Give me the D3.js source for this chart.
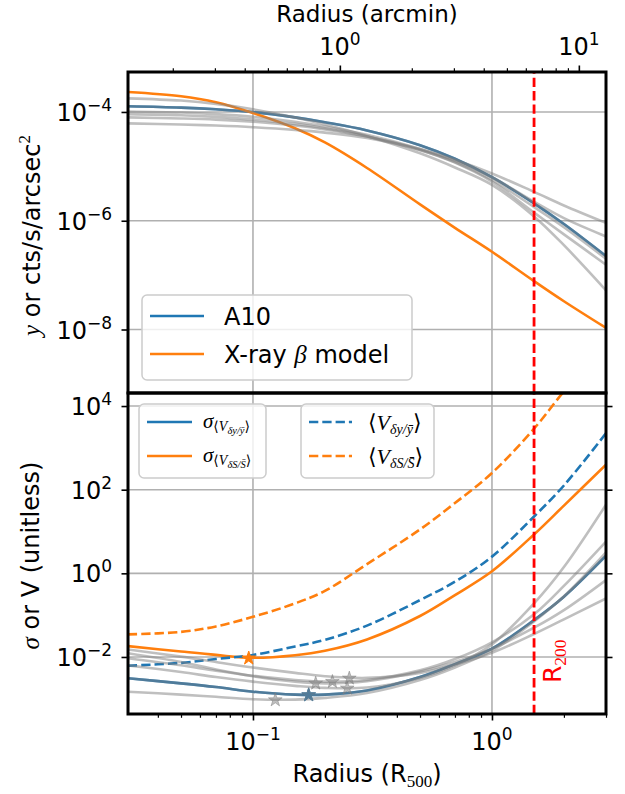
<!DOCTYPE html>
<html>
<head>
<meta charset="utf-8">
<script src="https://cdn.jsdelivr.net/npm/d3@7"></script>
<style>
  body { margin: 0; background: #fff; }
  svg { display: block; }
  text { font-family: "DejaVu Sans", sans-serif; fill: #000; }
</style>
</head>
<body>
<svg id="chart" width="625" height="794"></svg>
<script>
// ---- data -------------------------------------------------------------
const radius = [0.03, 0.05, 0.07, 0.1, 0.15, 0.2, 0.3, 0.5, 0.7, 1.0, 1.5, 2.0, 3.0]; // R / R500
const arcminPerR500 = 4.33;
const r200 = 1.5;

// upper panel: projected profiles (y or cts/s/arcsec^2)
const a10Profile  = [1.27e-4, 1.20e-4, 1.12e-4, 1.00e-4, 7.94e-5, 6.46e-5, 4.57e-5, 2.45e-5, 1.38e-5, 6.31e-6, 2.09e-6, 8.71e-7, 2.24e-7];
const betaProfile = [2.33e-4, 1.95e-4, 1.51e-4, 9.55e-5, 5.01e-5, 2.75e-5, 9.33e-6, 2.00e-6, 7.41e-7, 2.69e-7, 7.76e-8, 3.31e-8, 1.07e-8];
const clusterProfileA = [7.94e-5, 7.59e-5, 7.24e-5, 6.61e-5, 5.62e-5, 4.79e-5, 3.55e-5, 2.09e-5, 1.32e-5, 7.41e-6, 3.39e-6, 1.91e-6, 9.12e-7];
const clusterProfileB = [1.78e-4, 1.62e-4, 1.41e-4, 1.12e-4, 7.94e-5, 5.89e-5, 3.63e-5, 1.74e-5, 9.55e-6, 4.57e-6, 1.20e-6, 3.55e-7, 5.25e-8];
const clusterProfileC = [9.12e-5, 8.71e-5, 8.13e-5, 7.24e-5, 6.03e-5, 5.01e-5, 3.55e-5, 2.00e-5, 1.17e-5, 5.25e-6, 1.41e-6, 5.62e-7, 1.55e-7];
const clusterProfileD = [1.02e-4, 9.77e-5, 9.12e-5, 8.13e-5, 6.61e-5, 5.37e-5, 3.80e-5, 2.09e-5, 1.26e-5, 6.31e-6, 2.24e-6, 1.12e-6, 5.13e-7];
const clusterProfileE = [6.17e-5, 5.89e-5, 5.62e-5, 5.25e-5, 4.68e-5, 4.17e-5, 3.31e-5, 2.00e-5, 1.20e-5, 5.62e-6, 1.78e-6, 7.59e-7, 2.00e-7];

// lower panel: scatter (sigma) and mean variance (V)
const sigmaY = [3.09e-3, 2.34e-3, 1.91e-3, 1.48e-3, 1.26e-3, 1.26e-3, 1.58e-3, 3.31e-3, 6.76e-3, 1.58e-2, 7.59e-2, 0.275, 2.63];
const sigmaS = [1.82e-2, 1.35e-2, 1.12e-2, 9.55e-3, 1.10e-2, 1.41e-2, 2.63e-2, 9.55e-2, 0.302, 1.12, 8.51, 41.7, 398];
const meanVY = [6.17e-3, 7.24e-3, 8.91e-3, 1.12e-2, 1.78e-2, 2.57e-2, 5.62e-2, 0.229, 0.631, 2.51, 22.9, 126, 2240];
const meanVS = [3.47e-2, 3.98e-2, 5.37e-2, 9.12e-2, 0.191, 0.380, 1.66, 11.2, 47.9, 251, 2880, 2.24e4, 3.16e5];
const clusterSigma1 = [1.48e-3, 1.26e-3, 1.12e-3, 9.77e-4, 9.55e-4, 1.05e-3, 1.38e-3, 2.82e-3, 5.62e-3, 1.41e-2, 7.08e-2, 0.282, 3.16];
const clusterSigma2 = [1.23e-2, 7.59e-3, 5.01e-3, 3.47e-3, 2.57e-3, 2.34e-3, 2.63e-3, 4.47e-3, 7.59e-3, 1.58e-2, 5.01e-2, 0.132, 0.692];
const clusterSigma3 = [9.33e-3, 6.31e-3, 4.68e-3, 3.55e-3, 2.82e-3, 2.57e-3, 2.82e-3, 4.79e-3, 8.91e-3, 2.24e-2, 0.105, 0.501, 5.75];
const clusterSigma4 = [1.51e-2, 1.02e-2, 7.59e-3, 5.62e-3, 4.17e-3, 3.47e-3, 3.16e-3, 4.17e-3, 6.61e-3, 1.26e-2, 3.55e-2, 7.94e-2, 0.251];
const clusterSigma5 = [6.31e-3, 4.37e-3, 3.31e-3, 2.57e-3, 2.04e-3, 1.82e-3, 1.86e-3, 3.16e-3, 6.31e-3, 2.00e-2, 0.191, 1.41, 43.7];

// minima of each scatter curve
const grayMinR = [0.124, 0.183, 0.215, 0.253, 0.248];
const grayMinV = [9.33e-4, 2.34e-3, 2.57e-3, 3.09e-3, 1.78e-3];
const sigmaYMin = [0.171, 1.23e-3];
const sigmaSMin = [0.096, 9.33e-3];

// ticks
const xMajor = [0.1, 1];
const xMinor = [0.04, 0.05, 0.06, 0.07, 0.08, 0.09, 0.2, 0.3, 0.4, 0.5, 0.6, 0.7, 0.8, 0.9, 2, 3];
const arcMajor = [1, 10];
const arcMinor = [0.2, 0.3, 0.4, 0.5, 0.6, 0.7, 0.8, 0.9, 2, 3, 4, 5, 6, 7, 8, 9];
const yTopMajor = [1e-4, 1e-6, 1e-8];
const yBotMajor = [1e4, 1e2, 1, 1e-2];

// ---- layout -----------------------------------------------------------
const L = 128, R = 606, T1 = 72, B1 = 393, T2 = 393, B2 = 714;
const BLUE = "#1f77b4", ORANGE = "#ff7f0e", GRAY = "#808080";
const LW = 2.6, DASH = "9.3,4";
const MATH = "'Liberation Serif','DejaVu Serif',serif";

const x = d3.scaleLog().domain([0.03, 3]).range([L, R]);
const xArc = d3.scaleLog().domain([0.03 * arcminPerR500, 3 * arcminPerR500]).range([L, R]);
const yTop = d3.scaleLog().domain([6.8e-10, 5.43e-4]).range([B1, T1]);
const yBot = d3.scaleLog().domain([4.33e-4, 2.05e4]).range([B2, T2]);

const svg = d3.select("#chart");
const defs = svg.append("defs");
defs.append("clipPath").attr("id", "clipTop").append("rect")
  .attr("x", L).attr("y", T1).attr("width", R - L).attr("height", B1 - T1);
defs.append("clipPath").attr("id", "clipBot").append("rect")
  .attr("x", L).attr("y", T2).attr("width", R - L).attr("height", B2 - T2);

function curve(values, yScale) {
  return d3.line()
    .x((d, i) => x(radius[i]))
    .y(d => yScale(d))
    .curve(d3.curveCatmullRom.alpha(0.5))(values);
}

function grid(g, yScale, yTicks, y0, y1) {
  const gg = g.append("g").attr("stroke", "#b0b0b0").attr("stroke-width", 1.6);
  xMajor.forEach(v => gg.append("line").attr("x1", x(v)).attr("x2", x(v)).attr("y1", y0).attr("y2", y1));
  yTicks.forEach(v => gg.append("line").attr("x1", L).attr("x2", R).attr("y1", yScale(v)).attr("y2", yScale(v)));
}

function drawLine(g, values, yScale, color, opts = {}) {
  g.append("path")
    .attr("d", curve(values, yScale))
    .attr("fill", "none")
    .attr("stroke", color)
    .attr("stroke-width", LW)
    .attr("stroke-opacity", opts.opacity ?? 1)
    .attr("stroke-dasharray", opts.dash ?? null)
    .attr("stroke-linejoin", "round");
}

function r200Line(g, y0, y1) {
  g.append("line")
    .attr("x1", x(r200)).attr("x2", x(r200))
    .attr("y1", y0).attr("y2", y1)
    .attr("stroke", "#ff0000").attr("stroke-width", 2.8)
    .attr("stroke-dasharray", DASH);
}

// ---- upper panel ------------------------------------------------------
const upperPanel = svg.append("g");
grid(upperPanel, yTop, yTopMajor, T1, B1);
const upperPlot = upperPanel.append("g").attr("clip-path", "url(#clipTop)");
drawLine(upperPlot, a10Profile, yTop, BLUE);
drawLine(upperPlot, betaProfile, yTop, ORANGE);
[a10Profile, clusterProfileA, clusterProfileB, clusterProfileC, clusterProfileD, clusterProfileE]
  .forEach(p => drawLine(upperPlot, p, yTop, GRAY, { opacity: 0.5 }));
r200Line(upperPlot, B1, T1);

// ---- lower panel ------------------------------------------------------
const lowerPanel = svg.append("g");
grid(lowerPanel, yBot, yBotMajor, T2, B2);
const lowerPlot = lowerPanel.append("g").attr("clip-path", "url(#clipBot)");
drawLine(lowerPlot, sigmaY, yBot, BLUE);
drawLine(lowerPlot, sigmaS, yBot, ORANGE);
drawLine(lowerPlot, meanVY, yBot, BLUE, { dash: DASH });
drawLine(lowerPlot, meanVS, yBot, ORANGE, { dash: DASH });
[sigmaY, clusterSigma1, clusterSigma2, clusterSigma3, clusterSigma4, clusterSigma5]
  .forEach(p => drawLine(lowerPlot, p, yBot, GRAY, { opacity: 0.5 }));

const star = d3.symbol(d3.symbolStar, 58);
function drawStar(g, r, v, color, op) {
  g.append("path").attr("d", star())
    .attr("transform", `translate(${x(r)},${yBot(v)})`)
    .attr("fill", color).attr("fill-opacity", op)
    .attr("stroke", color).attr("stroke-opacity", op).attr("stroke-width", 1);
}
drawStar(lowerPlot, sigmaSMin[0], sigmaSMin[1], ORANGE, 1);
drawStar(lowerPlot, sigmaYMin[0], sigmaYMin[1], BLUE, 1);
drawStar(lowerPlot, sigmaYMin[0], sigmaYMin[1], GRAY, 0.5);
grayMinR.forEach((r, i) => drawStar(lowerPlot, r, grayMinV[i], GRAY, 0.5));
r200Line(lowerPlot, B2, T2);

// R200 label
const r200Text = svg.append("text")
  .attr("transform", `translate(${x(r200) + 27},683) rotate(-90)`)
  .attr("font-size", 25).style("fill", "#ff0000");
r200Text.append("tspan").text("R").style("fill", "#ff0000");
r200Text.append("tspan").attr("font-family", MATH).attr("font-size", 17.5).attr("dy", 5)
  .style("fill", "#ff0000").text("200");

// ---- legends ----------------------------------------------------------
function legendBox(x0, y0, w, h) {
  svg.append("rect").attr("x", x0).attr("y", y0).attr("width", w).attr("height", h)
    .attr("rx", 5).attr("fill", "#fff").attr("fill-opacity", 0.8)
    .attr("stroke", "#cccccc").attr("stroke-width", 1.5);
}
function legendLine(x0, x1, y, color, dash) {
  svg.append("line").attr("x1", x0).attr("x2", x1).attr("y1", y).attr("y2", y)
    .attr("stroke", color).attr("stroke-width", LW).attr("stroke-dasharray", dash || null);
}
function richText(px, py, parts, baseSize) {
  const t = svg.append("text").attr("x", px).attr("y", py).attr("font-size", baseSize);
  parts.forEach(p => {
    const s = t.append("tspan").text(p.t);
    if (p.size) s.attr("font-size", p.size);
    if (p.italic) s.attr("font-style", "italic");
    if (p.math) s.attr("font-family", MATH);
    if (p.dy) s.attr("dy", p.dy);
  });
  return t;
}

legendBox(142, 295, 270, 85);
legendLine(150, 204, 316, BLUE);
legendLine(150, 204, 354, ORANGE);
richText(224, 325, [{ t: "A10" }], 24);
richText(224, 363, [{ t: "X-ray " }, { t: "β", italic: true, math: true, size: 25 }, { t: " model" }], 24);

// scatter legend
legendBox(139, 404, 127, 74);
legendLine(147, 192, 422, BLUE);
legendLine(147, 192, 456, ORANGE);
function sigmaLabel(px, py, sub) {
  richText(px, py, [
    { t: "σ", italic: true, math: true, size: 21 },
    { t: "⟨", math: true, size: 14, dy: 3 },
    { t: "V", italic: true, math: true, size: 14 },
    { t: sub, italic: true, math: true, size: 10.5, dy: 2.5 },
    { t: "⟩", math: true, size: 14, dy: -2.5 }
  ], 20);
}
sigmaLabel(203, 428, "δy/ȳ");
sigmaLabel(203, 462, "δS/S\u0304");

// mean variance legend
legendBox(301, 404, 133, 74);
legendLine(309, 352, 422, BLUE, DASH);
legendLine(309, 352, 456, ORANGE, DASH);
function meanLabel(px, py, sub) {
  richText(px, py, [
    { t: "⟨", math: true, size: 22 },
    { t: "V", italic: true, math: true, size: 22 },
    { t: sub, italic: true, math: true, size: 14, dy: 4 },
    { t: "⟩", math: true, size: 22, dy: -4 }
  ], 22);
}
meanLabel(368, 430, "δy/ȳ");
meanLabel(368, 464, "δS/S\u0304");

// ---- axes -------------------------------------------------------------
function tickAxis(transform, axis, values, size, width) {
  const g = svg.append("g").attr("transform", transform)
    .call(axis.tickValues(values).tickSize(size).tickFormat(() => ""));
  g.select(".domain").remove();
  g.selectAll(".tick line").attr("stroke", "#000").attr("stroke-width", width);
  return g;
}
tickAxis(`translate(0,${B2})`, d3.axisBottom(x), xMajor, 6.5, 1.6);
tickAxis(`translate(0,${B2})`, d3.axisBottom(x), xMinor, 3.8, 1.2);
tickAxis(`translate(0,${T1})`, d3.axisTop(xArc), arcMajor, 6.5, 1.6);
tickAxis(`translate(0,${T1})`, d3.axisTop(xArc), arcMinor, 3.8, 1.2);
tickAxis(`translate(${L},0)`, d3.axisLeft(yTop), yTopMajor, 6.5, 1.6);
tickAxis(`translate(${L},0)`, d3.axisLeft(yBot), yBotMajor, 6.5, 1.6);
tickAxis(`translate(${R},0)`, d3.axisRight(yBot), yBotMajor, 6.5, 1.6);

function powLabel(px, py, v, anchor) {
  const e = Math.round(Math.log10(v));
  const t = svg.append("text").attr("x", px).attr("y", py)
    .attr("text-anchor", anchor).attr("font-size", 24);
  t.append("tspan").text("10");
  t.append("tspan").attr("font-size", 17).attr("dy", -10).text(e < 0 ? "\u2212" + (-e) : String(e));
}
xMajor.forEach(v => powLabel(x(v), 750, v, "middle"));
arcMajor.forEach(v => powLabel(xArc(v), 55, v, "middle"));
yTopMajor.forEach(v => powLabel(112, yTop(v) + 9, v, "end"));
yBotMajor.forEach(v => powLabel(112, yBot(v) + 9, v, "end"));

// spines
[[T1, B1], [T2, B2]].forEach(([a, b]) =>
  svg.append("rect").attr("x", L).attr("y", a).attr("width", R - L).attr("height", b - a)
    .attr("fill", "none").attr("stroke", "#000").attr("stroke-width", 3));

// ---- axis titles ------------------------------------------------------
svg.append("text").attr("x", (L + R) / 2).attr("y", 22).attr("text-anchor", "middle")
  .attr("font-size", 23).text("Radius (arcmin)");

const xl = richText((L + R) / 2, 782, [
  { t: "Radius (R" }, { t: "500", math: true, size: 17, dy: 5 }, { t: ")", dy: -5 }
], 24);
xl.attr("text-anchor", "middle");

const yl1 = richText(0, 0, [
  { t: "y", italic: true, math: true, size: 25 },
  { t: " or cts/s/arcsec" },
  { t: "2", math: true, size: 17, dy: -10 }
], 24);
yl1.attr("text-anchor", "middle").attr("transform", `translate(40,${(T1 + B1) / 2 + 3}) rotate(-90)`);

const yl2 = richText(0, 0, [
  { t: "σ", italic: true, math: true, size: 25 },
  { t: " or V (unitless)" }
], 24);
yl2.attr("text-anchor", "middle").attr("transform", `translate(39,${(T2 + B2) / 2 + 2}) rotate(-90)`);
</script>
</body>
</html>
